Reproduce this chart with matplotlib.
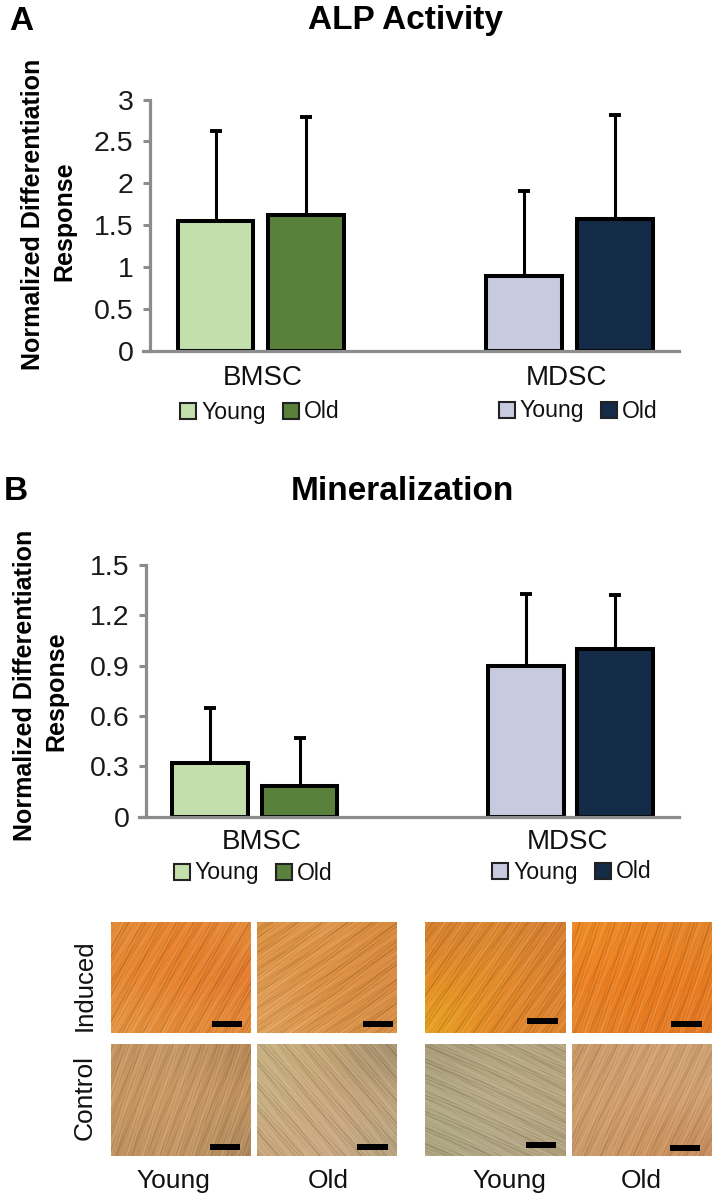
import numpy as np
import matplotlib
matplotlib.use('Agg')
import matplotlib.pyplot as plt
from matplotlib.colors import to_rgb
from matplotlib.patches import Rectangle

plt.rcParams['font.family'] = ['Liberation Sans', 'DejaVu Sans']

W, H = 715, 1201

# chart values
groups = ['BMSC', 'MDSC']
alp_values = [1.55, 1.62, 0.90, 1.58]
alp_errors = [1.07, 1.17, 1.01, 1.24]
alp_ticks = [0, 0.5, 1, 1.5, 2, 2.5, 3]
alp_ticklabels = ['0', '0.5', '1', '1.5', '2', '2.5', '3']
min_values = [0.32, 0.18, 0.90, 1.00]
min_errors = [0.33, 0.29, 0.43, 0.32]
min_ticks = [0, 0.3, 0.6, 0.9, 1.2, 1.5]
min_ticklabels = ['0', '0.3', '0.6', '0.9', '1.2', '1.5']
bar_colors = ['#c2dfac', '#5a813c', '#c8cbdf', '#132b47']
series = ['Young', 'Old', 'Young', 'Old']

# rough colours of the stained wells, 3x3 grid for each picture
induced_bmsc_young = [['#e58a35', '#e8802a', '#e68a38'], ['#e8832c', '#e87f28', '#e5762a'], ['#e59442', '#e88a35', '#e58a3a']]
induced_bmsc_old = [['#dd9040', '#e29a50', '#d8893a'], ['#e09a50', '#dd8c3c', '#d98a40'], ['#e2a058', '#dd9448', '#d98f45']]
induced_mdsc_young = [['#d98330', '#dd8a30', '#d88032'], ['#e58a22', '#e58f28', '#dd822c'], ['#e8a020', '#e38526', '#e0842e']]
induced_mdsc_old = [['#ee8a24', '#ec8422', '#e58428'], ['#ec7f20', '#ee7a1a', '#ea7c20'], ['#e88428', '#e87d22', '#e77a24']]
control_bmsc_young = [['#c59560', '#cb9c68', '#b98a58'], ['#cd9a62', '#cf9c66', '#c99863'], ['#c0935f', '#cb9a66', '#b08a5c']]
control_bmsc_old = [['#c8b080', '#c9a675', '#a89470'], ['#c8b184', '#cfa67c', '#c8a87e'], ['#c9a67a', '#d2ac86', '#b8a47e']]
control_mdsc_young = [['#ab9d78', '#b6a880', '#b5a47e'], ['#b3aa84', '#bdac88', '#b9a882'], ['#aba47e', '#b5a888', '#b2a27e']]
control_mdsc_old = [['#cc9a68', '#d3a274', '#cfa070'], ['#d2a26e', '#d69f6e', '#d3a272'], ['#cb9a68', '#d09660', '#c98f5e']]


def px_axes(left, top, right, bottom):
    return fig.add_axes([left / W, 1 - bottom / H, (right - left) / W, (bottom - top) / H])


def bar_chart(box, xpos, values, errors, ticks, ticklabels, ymax):
    ax = px_axes(*box)
    ax.bar(xpos, values, width=75.5, color=bar_colors, edgecolor='black', linewidth=2.9, zorder=1)
    ax.errorbar(xpos, values, yerr=[np.zeros(4), errors], fmt='none', ecolor='black',
                elinewidth=2.2, capsize=4.6, capthick=2.8, zorder=1)
    ax.set_xlim(box[0], box[2])
    ax.set_ylim(0, ymax)
    ax.set_xticks([])
    ax.set_yticks(ticks)
    ax.set_yticklabels(ticklabels, fontsize=20.5, color='#1a1a1a')
    ax.tick_params(axis='y', length=5, width=2.2, color='#8c8c8c', pad=7)
    ax.spines['top'].set_visible(False)
    ax.spines['right'].set_visible(False)
    for s in ['left', 'bottom']:
        ax.spines[s].set_color('#8c8c8c')
        ax.spines[s].set_linewidth(2.3)
    ax.spines['bottom'].set_bounds(box[0] - 7, box[2])
    ax.spines['bottom'].set_clip_on(False)
    return ax


def txt(x, y, s, size, **kw):
    kw.setdefault('ha', 'center')
    kw.setdefault('va', 'center')
    kw.setdefault('color', '#111111')
    fig.text(x / W, 1 - y / H, s, fontsize=size, **kw)


def swatch(x, y, color, label):
    fig.add_artist(Rectangle((x / W, 1 - (y + 16) / H), 16 / W, 16 / H, facecolor=color,
                             edgecolor='#222222', linewidth=1.5, transform=fig.transFigure))
    txt(x + 21, y + 9, label, 16.6, ha='left')


def well(box, colors, bar, angle):
    ax = px_axes(*box)
    img = np.array([[to_rgb(c) for c in row] for row in colors])
    ax.imshow(img, interpolation='bicubic', aspect='auto', extent=(box[0], box[2], box[3], box[1]))
    # stand-in for the fibre look of the photo, not measured
    xx, yy = np.meshgrid(np.arange(box[0], box[2]), np.arange(box[1], box[3]))
    a = np.radians(angle)
    u = xx * np.sin(a) + yy * np.cos(a)
    v = xx * np.cos(a) - yy * np.sin(a)
    tex = (np.sin(u * 1.3 + 0.8 * np.sin(v * 0.03)) * np.sin(v * 0.06 + u * 0.37)
           + np.sin(u * 2.3 + 0.7 * np.sin(v * 0.05 + 1)) * np.sin(v * 0.09 - u * 0.23 + 2)
           + 0.6 * np.sin(u * 0.41 + v * 0.013))
    shade = np.zeros(tex.shape + (4,))
    shade[..., :3] = (tex > 0)[..., None]
    shade[..., 3] = np.clip(np.abs(tex) * 0.075, 0, 0.2)
    ax.imshow(shade, interpolation='bilinear', aspect='auto', extent=(box[0], box[2], box[3], box[1]))
    ax.add_patch(Rectangle((bar[0], bar[1]), 30.5, 6, color='black', linewidth=0))
    ax.axis('off')


fig = plt.figure(figsize=(W / 100, H / 100), dpi=100)

# panel A
bar_chart((150, 99.5, 679, 351), [215.5, 306, 524, 615], alp_values, alp_errors,
          alp_ticks, alp_ticklabels, 3)
txt(21, 21, 'A', 24, weight='bold', color='black')
txt(406, 21, 'ALP Activity', 24, weight='bold', color='black')
txt(33, 214, 'Normalized Differentiation', 18, weight='bold', rotation=90, color='black')
txt(64, 221, 'Response', 18, weight='bold', rotation=90, color='black')
txt(262.5, 378, groups[0], 20)
txt(566.5, 378, groups[1], 20)
for x, y, c, s in zip([180, 282.5, 498.5, 601], [403, 403, 402, 402], bar_colors, series):
    swatch(x, y, c, s)

# panel B
bar_chart((146, 565, 679, 816.7), [210, 299.5, 526, 615], min_values, min_errors,
          min_ticks, min_ticklabels, 1.5)
txt(16, 491, 'B', 24, weight='bold', color='black')
txt(402, 491, 'Mineralization', 24, weight='bold', color='black')
txt(25, 685, 'Normalized Differentiation', 18, weight='bold', rotation=90, color='black')
txt(56, 691.5, 'Response', 18, weight='bold', rotation=90, color='black')
txt(261.5, 842, groups[0], 20)
txt(567.5, 842, groups[1], 20)
for x, y, c, s in zip([173.5, 276, 492, 594.5], [864, 864, 863, 863], bar_colors, series):
    swatch(x, y, c, s)

# micrographs
well((110.5, 921.7, 250, 1032.7), induced_bmsc_young, (211.7, 1021.3), 60)
well((256.5, 921.7, 396.5, 1032.7), induced_bmsc_old, (362.5, 1021.3), 35)
well((425.5, 921.7, 566, 1032.7), induced_mdsc_young, (527, 1018.3), 55)
well((572, 921.7, 712, 1032.7), induced_mdsc_old, (671, 1021.3), 70)
well((110.5, 1044, 250, 1155.7), control_bmsc_young, (209.6, 1144), 70)
well((256.5, 1044, 396.5, 1155.7), control_bmsc_old, (357, 1144), -50)
well((425.5, 1044, 566, 1155.7), control_mdsc_young, (525.5, 1142), -25)
well((572, 1044, 712, 1155.7), control_mdsc_old, (669.7, 1144.5), 65)

txt(85, 985, 'Induced', 18.5, rotation=90)
txt(85, 1097, 'Control', 19, rotation=90)
for x, s in zip([173, 328, 509.5, 641], ['Young', 'Old', 'Young', 'Old']):
    txt(x, 1181, s, 19)

fig.savefig('out.png', dpi=100)
